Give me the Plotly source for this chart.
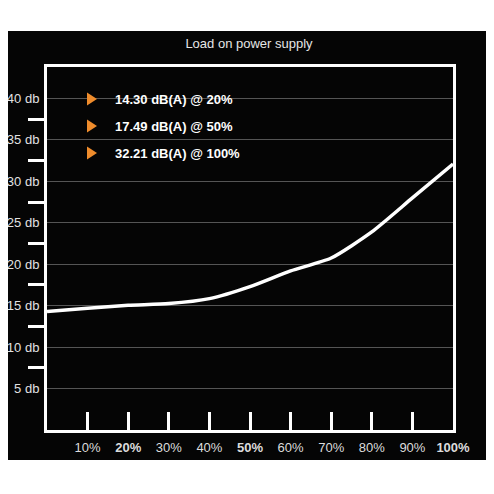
import plotly.graph_objects as go


# Values
LOAD_PCT = [0, 10, 20, 30, 40, 50, 60, 70, 80, 90, 100]
NOISE_DB = [14.3, 14.7, 15.05, 15.25, 15.85, 17.3, 19.2, 20.75, 23.9, 28.0, 32.1]

Y_TICKS = [5, 10, 15, 20, 25, 30, 35, 40]
Y_TICK_LABELS = ['5 db', '10 db', '15 db', '20 db', '25 db', '30 db', '35 db', '40 db']
Y_MINOR_TICKS = [7.5, 12.5, 17.5, 22.5, 27.5, 32.5, 37.5]
X_TICKS = [10, 20, 30, 40, 50, 60, 70, 80, 90, 100]
X_TICK_LABELS = ['10%', '<b>20%</b>', '30%', '40%', '<b>50%</b>', '60%', '70%', '80%', '90%', '<b>100%</b>']
CALLOUTS = ['14.30 dB(A) @ 20%', '17.49 dB(A) @ 50%', '32.21 dB(A) @ 100%']

TITLE = 'Load on power supply'

FONT = 'Liberation Sans, Arial, sans-serif'
COLOR_BG = '#050505'
COLOR_ORANGE = '#ef8c2c'

# page body has an 8px margin, so the figure is a bit smaller than the window
PAGE = 494
OFFSET = 8
W = H = PAGE - OFFSET
# plot box in page pixels
LEFT, RIGHT, TOP, BOTTOM = 47, 453, 67, 430


def px_x(x):
	return (x - LEFT) / (RIGHT - LEFT)


def px_y(y):
	return (BOTTOM - y) / (BOTTOM - TOP)


fig = go.Figure()

fig.add_trace(go.Scatter(x=LOAD_PCT, y=NOISE_DB, mode='lines',
				line=dict(color='white', width=3.5, shape='spline', smoothing=0.6),
				hoverinfo='skip', showlegend=False))

# black band behind the chart
fig.add_shape(type='rect', xref='paper', yref='paper',
			x0=px_x(0), x1=px_x(PAGE + 10), y0=px_y(460), y1=px_y(31),
			fillcolor=COLOR_BG, line_width=0, layer='below')

# orange arrows + callout text
for i, txt in enumerate(CALLOUTS):
	row_y = 99 + 27 * i
	fig.add_shape(type='path', xref='paper', yref='paper',
				path=f'M {px_x(87)},{px_y(row_y - 6.5)} L {px_x(97)},{px_y(row_y)} L {px_x(87)},{px_y(row_y + 6.5)} Z',
				fillcolor=COLOR_ORANGE, line_width=0)
	fig.add_annotation(text=f'<b>{txt}</b>', xref='paper', yref='paper',
					x=px_x(113), y=px_y(row_y), xanchor='left', yanchor='middle',
					showarrow=False, font=dict(family=FONT, size=13, color='white'))

fig.update_layout(
	width=W, height=H,
	margin=dict(l=LEFT - OFFSET, r=PAGE - RIGHT, t=TOP - OFFSET, b=PAGE - BOTTOM, pad=0),
	paper_bgcolor='white',
	plot_bgcolor=COLOR_BG,
	font=dict(family=FONT, size=13, color='#e2e2e2'),
	title=dict(text=TITLE, x=(249 - OFFSET) / W, y=1 - (43 - OFFSET) / H, xanchor='center', yanchor='middle',
			font=dict(family=FONT, size=13, color='#e6e6e6')),
	showlegend=False,
)

fig.update_xaxes(range=[0, 100], automargin=False,
				showline=True, mirror=True, linecolor='white', linewidth=3,
				showgrid=False, zeroline=False,
				tickmode='array', tickvals=X_TICKS, ticktext=X_TICK_LABELS,
				ticks='inside', ticklen=18, tickwidth=3, tickcolor='white',
				ticklabelstandoff=3,
				tickfont=dict(family=FONT, size=13, color='#dcdcdc'))

fig.update_yaxes(range=[0, 43.8], automargin=False,
				showline=True, mirror=True, linecolor='white', linewidth=3,
				showgrid=True, gridcolor='#555555', gridwidth=1, zeroline=False,
				tickmode='array', tickvals=Y_TICKS, ticktext=Y_TICK_LABELS, ticks='',
				ticklabelstandoff=2,
				tickfont=dict(family=FONT, size=13, color='#e2e2e2'),
				minor=dict(tickmode='array', tickvals=Y_MINOR_TICKS, ticks='outside',
						ticklen=16, tickwidth=3, tickcolor='white', showgrid=False))

fig.write_html("out.html")
